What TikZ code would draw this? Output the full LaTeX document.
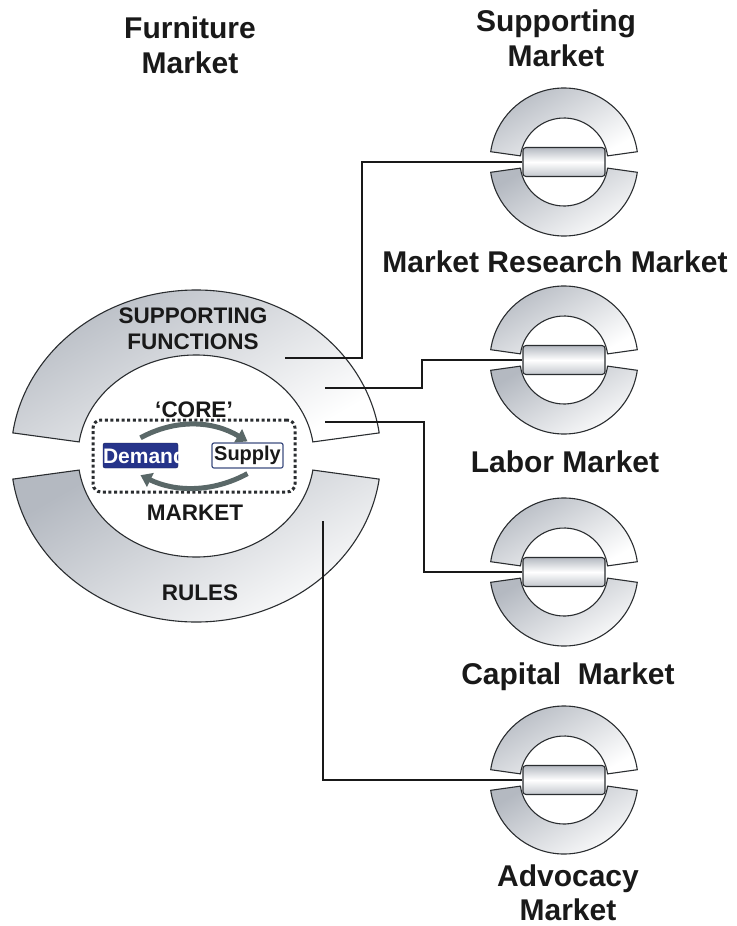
\documentclass[tikz,border=0pt]{standalone}
\usepackage{fontspec}
\setmainfont{Liberation Sans}
\usetikzlibrary{arrows.meta}
\definecolor{RingGray}{HTML}{B4B9C1}
\definecolor{EdgeDark}{HTML}{2A2D30}
\definecolor{DemandBlue}{HTML}{26348A}
\definecolor{FlowGray}{HTML}{5A6868}
\definecolor{SupplyEdge}{HTML}{3E4E80}

\tikzset{
  ring/.style={draw=EdgeDark, line width=1.1pt, top color=RingGray, bottom color=white, shading angle=30},
  bar/.style={draw=EdgeDark, line width=1.1pt, rounded corners=3pt, minimum width=82pt, minimum height=29pt,
    inner sep=0pt, top color=RingGray, bottom color=RingGray!80, middle color=white},
  link/.style={draw=black!90, line width=1.6pt},
  title/.style={font=\bfseries\fontsize{30}{35}\selectfont, align=center, text=black!90},
  caps/.style={font=\bfseries\fontsize{22.5}{26}\selectfont, align=center, text=black!90},
  flow/.style={FlowGray, line width=5pt, -{Triangle[length=11pt, width=15pt]}},
}

\begin{document}
\begin{tikzpicture}[x=1pt, y=1pt]
\useasboundingbox (0,0) rectangle (736,-926);

% Furniture market: supporting functions on top, rules below
\begin{scope}[shift={(196,-456)}]
  \path[ring] (8:185 and 166) arc[start angle=8, end angle=172, x radius=185, y radius=166]
    -- (172:118 and 101) arc[start angle=172, end angle=8, x radius=118, y radius=101] -- cycle;
  \path[ring] (-8:185 and 166) arc[start angle=-8, end angle=-172, x radius=185, y radius=166]
    -- (-172:118 and 101) arc[start angle=-172, end angle=-8, x radius=118, y radius=101] -- cycle;
\end{scope}

\node[caps] (sf) at (193,-329) {SUPPORTING\\FUNCTIONS};
\node[caps, anchor=base] (core) at (194,-417) {`CORE'};
\node[caps, anchor=base] (mkt) at (195,-520) {MARKET};
\node[caps, anchor=base] (rules) at (200,-600) {RULES};

% Core market: demand and supply
\node[draw=EdgeDark, line width=3pt, dash pattern=on 3pt off 2.6pt, rounded corners=8pt,
  minimum width=202pt, minimum height=72pt] (frame) at (194,-456) {};
\node[fill=DemandBlue, draw=DemandBlue!60!black, rounded corners=2pt, minimum width=75pt,
  minimum height=25pt] (dem) at (140.5,-455.5) {};
\begin{scope}
  \clip (dem.south west) rectangle (dem.north east);
  \node[anchor=west, inner sep=0pt, text=white, font=\bfseries\fontsize{21}{21}\selectfont] (demtext) at (dem.west) {Demand};
\end{scope}
\node[fill=white, draw=SupplyEdge, line width=1.2pt, rounded corners=2pt, minimum width=71pt,
  minimum height=25pt, inner sep=0pt, text=black!90, font=\bfseries\fontsize{20}{20}\selectfont] (sup) at (247.5,-455.5) {Supply};

% Exchange arrows
\draw[flow] ([yshift=5pt]dem.north) .. controls +(35,19) and +(-35,21) .. ([yshift=1pt]sup.north);
\draw[flow] ([yshift=-5pt]sup.south) .. controls +(-35,-19) and +(35,-17) .. ([yshift=-7pt]dem.south);

% Supporting markets
\foreach \n/\y in {1/162, 2/360, 3/572, 4/780} {
  \begin{scope}[shift={(564,-\y)}]
    \path[ring] (8:74) arc[start angle=8, end angle=172, radius=74]
      -- (172:44) arc[start angle=172, end angle=8, radius=44] -- cycle;
    \path[ring] (-8:74) arc[start angle=-8, end angle=-172, radius=74]
      -- (-172:44) arc[start angle=-172, end angle=-8, radius=44] -- cycle;
    \node[bar] (r\n) at (0,0) {};
  \end{scope}
}

\node[title] (furn) at (190,-45) {Furniture\\Market};
\node[title] (supp) at (556,-38) {Supporting\\Market};
\node[title, anchor=base] (research) at (555,-272) {Market Research Market};
\node[title, anchor=base] (labor) at (565,-472) {Labor Market};
\node[title, anchor=base] (capital) at (568,-684) {Capital\ \ Market};
\node[title, anchor=base] (advocacy) at (568,-886) {Advocacy};
\node[title, anchor=base] (advmkt) at (568,-920) {Market};

% Links from the functions to the markets
\coordinate (sf1) at (285,-358);
\coordinate (sf2) at (325,-388);
\coordinate (sf3) at (325,-422);
\coordinate (rl1) at (323,-521);
\draw[link] (sf1) -- ++(77,0) |- (r1.west);
\draw[link] (sf2) -- ++(97,0) |- (r2.west);
\draw[link] (sf3) -- ++(99,0) |- (r3.west);
\draw[link] (rl1) |- (r4.west);
\end{tikzpicture}
\end{document}
